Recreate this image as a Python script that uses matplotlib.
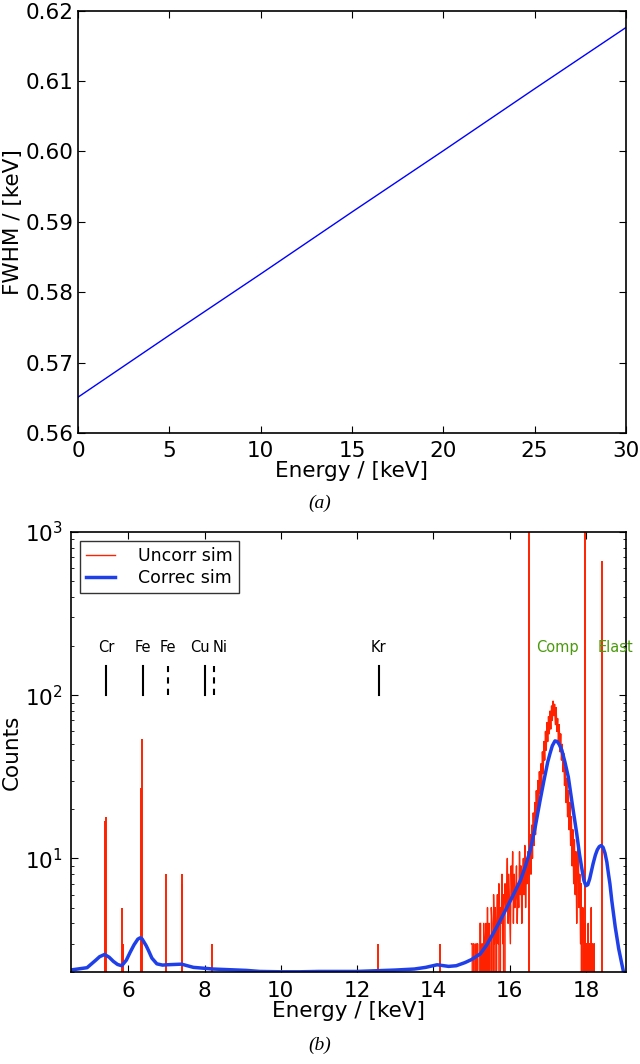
import numpy as np
import matplotlib.pyplot as plt

# (a) FWHM vs energy
fwhm_energy = [0, 5, 10, 15, 20, 25, 30]
fwhm_values = [0.5651, 0.5739, 0.5826, 0.5914, 0.6001, 0.6089, 0.6176]

# (b) spectrum: isolated red spikes
spike_energy = [5.40, 5.41, 5.84, 5.87, 6.33, 6.35, 7.00, 7.40, 7.42, 8.20,
                12.55, 14.18, 16.52, 17.99, 18.43]
spike_counts = [17, 18, 5, 3, 27, 54, 8, 7, 8, 3,
                3, 3, 3000, 3000, 660]

# Compton region, bins of 0.02 keV from 15.00 keV
compton_start = 15.0
compton_step = 0.02
compton_counts = [
    3, 3, 0, 3, 0, 0, 3, 0, 3, 0, 0, 4, 4, 0, 3, 0,
    4, 0, 3, 4, 0, 5, 0, 4, 3, 0, 5, 4, 0, 6, 3,
    5, 0, 4, 6, 3, 7, 0, 5, 4, 8, 3, 6, 0, 7, 5,
    6, 10, 4, 8, 5, 3, 9, 6, 11, 4, 8, 5, 6, 9, 4,
    7, 5, 11, 6, 9, 4, 7, 10, 6, 12, 5, 9, 7, 11, 8,
    9, 14, 8, 16, 10, 19, 12, 22, 14, 26, 17, 30, 21, 34, 25,
    38, 28, 45, 33, 52, 40, 60, 46, 68, 52, 74, 58, 80, 62, 86,
    70, 92, 75, 88, 66, 84, 60, 72, 52, 66, 45, 58, 40, 50, 34,
    44, 28, 36, 22, 31, 18, 26, 15, 22, 12, 18, 9, 15, 7, 13,
    6, 11, 4, 9, 13, 5, 8, 3, 7, 0, 5, 3, 0, 4, 0,
    3, 0, 4, 0, 3, 0, 5, 0, 3, 0, 3, 0, 0, 0, 0,
]

# corrected simulation (smooth blue curve)
corr_energy = [4.48, 4.92, 5.14, 5.25, 5.38, 5.5, 5.61, 5.72, 5.83, 5.95, 6.05,
               6.15, 6.25, 6.31, 6.36, 6.47, 6.53, 6.62, 6.75, 6.9, 7.01, 7.2,
               7.40, 7.55, 7.71, 8.23, 9.1, 9.45, 10.0, 10.5, 11.0, 11.5, 12.0,
               12.5, 13.0, 13.5, 13.8, 14.1, 14.4, 14.6, 14.83, 15.0, 15.23,
               15.4, 15.57, 15.75, 15.93, 16.1, 16.28, 16.41, 16.54, 16.67,
               16.8, 16.9, 17.0, 17.06, 17.12, 17.19, 17.25, 17.3, 17.37, 17.45,
               17.54, 17.65, 17.76, 17.83, 17.9, 17.95, 18.0, 18.05, 18.1,
               18.19, 18.25, 18.3, 18.35, 18.4, 18.45, 18.5, 18.55, 18.59,
               18.63, 18.68, 18.77, 18.86, 18.94, 19.0, 19.1]
corr_counts = [2.07, 2.14, 2.37, 2.5, 2.58, 2.48, 2.34, 2.24, 2.2, 2.38, 2.66,
               2.95, 3.2, 3.26, 3.22, 2.92, 2.73, 2.45, 2.26, 2.22, 2.23, 2.24,
               2.25, 2.2, 2.15, 2.10, 2.06, 2.03, 2.02, 2.02, 2.03, 2.03, 2.03,
               2.05, 2.07, 2.1, 2.15, 2.23, 2.18, 2.2, 2.3, 2.4, 2.6,
               2.95, 3.47, 4.15, 5.0, 6.0, 7.3, 8.9, 11.2, 15.5,
               22.7, 30, 39, 44, 49, 52.5, 52, 50, 46, 39,
               31.5, 21, 14.2, 10.7, 8.5, 7.3, 6.8, 6.9, 7.5,
               9.3, 10.5, 11.3, 11.8, 12.0, 11.7, 10.8, 9.5, 8.1,
               7.0, 5.5, 3.8, 2.8, 2.27, 1.95, 1.85]

lines_e = [5.41, 6.38, 7.04, 8.02, 8.24, 12.57]
lines_style = ['-', '-', '--', '-', '--', '-']
label_e = [5.42, 6.38, 7.05, 7.87, 8.41, 12.57]
label_txt = ['Cr', 'Fe', 'Fe', 'Cu', 'Ni', 'Kr']

red = '#ff2200'
blue = '#1f40e8'
green = '#4a9a0c'

plt.rcParams['font.family'] = 'DejaVu Sans'
plt.rcParams['xtick.direction'] = 'in'
plt.rcParams['ytick.direction'] = 'in'
plt.rcParams['xtick.top'] = True
plt.rcParams['ytick.right'] = True
plt.rcParams['xtick.major.size'] = 5
plt.rcParams['ytick.major.size'] = 5
plt.rcParams['xtick.minor.size'] = 2.5
plt.rcParams['ytick.minor.size'] = 2.5
plt.rcParams['xtick.major.pad'] = 6
plt.rcParams['ytick.major.pad'] = 6
plt.rcParams['axes.linewidth'] = 1.2

fig = plt.figure(figsize=(6.4, 10.64), dpi=100)

# ---- top panel
ax1 = fig.add_axes([0.122, 0.593, 0.856, 0.397])
ax1.plot(fwhm_energy, fwhm_values, color='b', lw=1.0)
ax1.set_xlim(0, 30)
ax1.set_ylim(0.56, 0.62)
ax1.set_xticks(range(0, 31, 5))
ax1.set_yticks(np.arange(0.56, 0.6201, 0.01))
ax1.set_yticklabels(['%.2f' % v for v in np.arange(0.56, 0.6201, 0.01)])
ax1.tick_params(labelsize=15.5)
ax1.tick_params(axis='y', pad=3)
ax1.set_xlabel('Energy / [keV]', fontsize=15.5, labelpad=0)
ax1.set_ylabel('FWHM / [keV]', fontsize=15.5)
ax1.yaxis.set_label_coords(-0.1, 0.5)
fig.text(0.5, 1 - 503 / 1064, '(a)', ha='center', va='center',
         family='Liberation Serif', style='italic', fontsize=14)

# ---- bottom panel
ax2 = fig.add_axes([0.111, 0.086, 0.867, 0.414])
comp_e = compton_start + compton_step * np.arange(len(compton_counts))
ax2.plot(comp_e, compton_counts, color=red, lw=1.0, label='Uncorr sim')
ax2.vlines(spike_energy, 1e-3, spike_counts, color=red, lw=1.4)
ax2.plot(corr_energy, corr_counts, color=blue, lw=2.5, label='Correc sim')
ax2.set_yscale('log')
ax2.set_xlim(4.5, 19.05)
ax2.set_ylim(2, 1000)
ax2.set_xticks(range(6, 19, 2))

for e, ls in zip(lines_e, lines_style):
    ax2.plot([e, e], [100, 150], color='k', lw=1.5, ls=ls,
             dashes=(3, 2.5) if ls == '--' else (None, None))
for e, t in zip(label_e, label_txt):
    ax2.text(e, 195, t, ha='center', va='center', fontsize=10.5)
ax2.text(17.26, 195, 'Comp', color=green, ha='center', va='center', fontsize=10.5)
ax2.text(18.77, 195, 'Elast', color=green, ha='center', va='center', fontsize=10.5)

leg = ax2.legend(loc='upper left', fontsize=12.5, fancybox=False,
                 handlelength=1.7, handletextpad=1.3, borderpad=0.35,
                 labelspacing=0.25, borderaxespad=0.5)
leg.get_frame().set_edgecolor('k')
leg.get_frame().set_linewidth(1.0)

ax2.tick_params(labelsize=15.5)
ax2.set_xlabel('Energy / [keV]', fontsize=15.5, labelpad=0)
ax2.set_ylabel('Counts', fontsize=15.5, labelpad=2)
fig.text(0.5, 1 - 1045 / 1064, '(b)', ha='center', va='center',
         family='Liberation Serif', style='italic', fontsize=14)

fig.savefig('out.png', dpi=100)
